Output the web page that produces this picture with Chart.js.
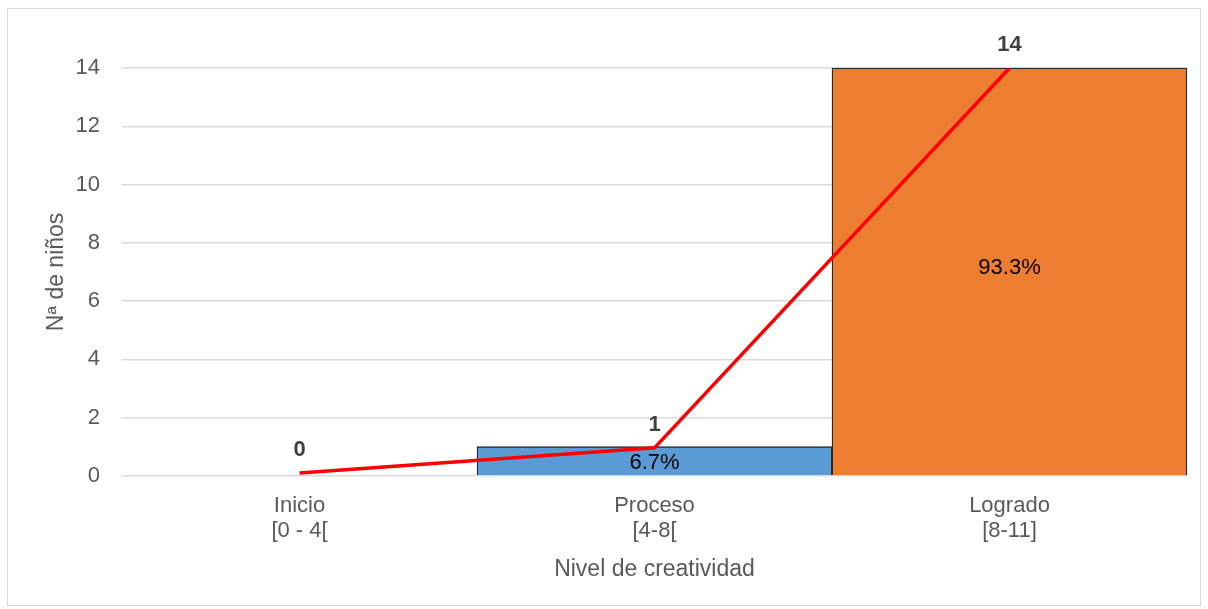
<!DOCTYPE html>
<html>
<head>
<meta charset="utf-8">
<script src="https://cdn.jsdelivr.net/npm/chart.js@4"></script>
<style>
  body { margin: 0; background: #fff; }
  #box { position: absolute; left: 7px; top: 8px; width: 1192px; height: 596px; border: 1px solid #d9d9d9; }
  canvas { display: block; }
</style>
</head>
<body>
<div id="box"><canvas id="chart" width="1192" height="596"></canvas></div>
<script>
  const categories = [['Inicio', '[0 - 4['], ['Proceso', '[4-8['], ['Logrado', '[8-11]']];
  const counts = [0, 1, 14];
  const percents = ['', '6.7%', '93.3%'];
  const trend = [0.1, 0.96, 14];
  const barColors = ['#5b9bd5', '#5b9bd5', '#ed7d31'];

  const FONT = '"Liberation Sans", Arial, sans-serif';

  // etiquetas de valores y porcentajes
  const labelPlugin = {
    id: 'labels',
    afterDatasetsDraw(chart) {
      const ctx = chart.ctx;
      const meta = chart.getDatasetMeta(0);
      const y = chart.scales.y;
      ctx.save();
      ctx.textAlign = 'center';
      ctx.textBaseline = 'middle';
      meta.data.forEach((bar, i) => {
        ctx.font = 'bold 22px ' + FONT;
        ctx.fillStyle = '#404040';
        ctx.fillText(String(counts[i]), bar.x, bar.y - 23);
        if (percents[i]) {
          ctx.font = '22px ' + FONT;
          ctx.fillStyle = '#000';
          const mid = (bar.y + y.getPixelForValue(0)) / 2;
          ctx.fillText(percents[i], bar.x, counts[i] < 2 ? mid + 1 : mid - 4);
        }
      });
      ctx.restore();
    }
  };

  new Chart(document.getElementById('chart').getContext('2d'), {
    data: {
      labels: categories,
      datasets: [{
        type: 'line',
        data: trend,
        borderColor: '#ff0000',
        borderWidth: 3.5,
        pointRadius: 0,
        tension: 0,
        order: 0
      }, {
        type: 'bar',
        data: counts,
        backgroundColor: barColors,
        borderColor: '#262626',
        borderWidth: 1.3,
        categoryPercentage: 1,
        barPercentage: 1,
        order: 1
      }]
    },
    options: {
      responsive: false,
      animation: false,
      layout: { padding: { left: 35, right: 13, top: 59, bottom: 18 } },
      plugins: { legend: { display: false }, tooltip: { enabled: false } },
      scales: {
        x: {
          grid: { display: false },
          border: { display: false },
          ticks: { color: '#595959', font: { size: 22, family: FONT, lineHeight: 1.15 }, padding: 9 },
          title: { display: true, text: 'Nivel de creatividad', color: '#595959', font: { size: 23, family: FONT }, padding: { top: 3, bottom: 4 } }
        },
        y: {
          min: 0,
          max: 14,
          afterFit: (scale) => { scale.width = 79; },
          ticks: { stepSize: 2, color: '#595959', font: { size: 22, family: FONT }, padding: 22 },
          grid: { color: '#d9d9d9', lineWidth: 1.5, drawTicks: false },
          border: { display: false },
          title: { display: true, text: 'Nª de niños', color: '#595959', font: { size: 23, family: FONT }, padding: { top: 0, bottom: 5 } }
        }
      }
    },
    plugins: [labelPlugin]
  });
</script>
</body>
</html>
